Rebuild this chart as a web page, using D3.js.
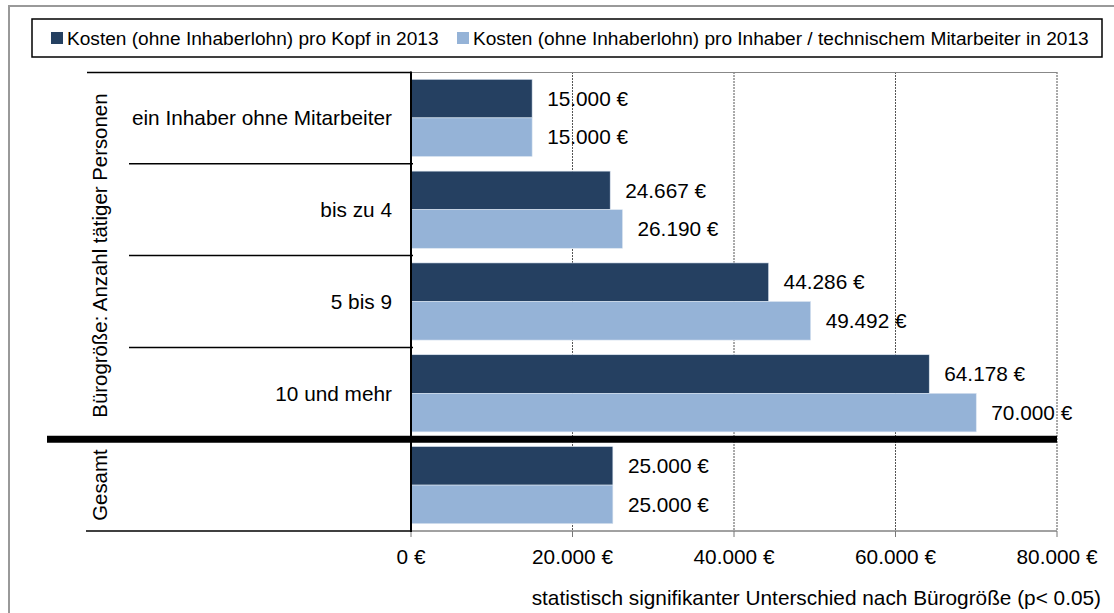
<!DOCTYPE html>
<html>
<head>
<meta charset="utf-8">
<script src="https://cdn.jsdelivr.net/npm/d3@7"></script>
<style>
  body { margin: 0; background: #fff; }
  svg { display: block; font-family: "Liberation Sans", Arimo, Arial, sans-serif; }
</style>
</head>
<body>
<svg id="chart" width="1114" height="613"></svg>
<script>
// values
const categoryLabels = ['ein Inhaber ohne Mitarbeiter', 'bis zu 4', '5 bis 9', '10 und mehr', ''];
const kostenProKopf = [15000, 24667, 44286, 64178, 25000];
const kostenProInhaber = [15000, 26190, 49492, 70000, 25000];
const seriesNames = [
    'Kosten (ohne Inhaberlohn) pro Kopf in 2013',
    'Kosten (ohne Inhaberlohn) pro Inhaber / technischem Mitarbeiter in 2013'
];
const seriesColors = ['#254061', '#95B3D7'];
const xTicks = [0, 20000, 40000, 60000, 80000];
const groupNames = ['Bürogröße: Anzahl tätiger Personen', 'Gesamt'];
const groupSpans = [[0, 3], [4, 4]];
const footNote = 'statistisch signifikanter Unterschied nach Bürogröße (p< 0.05)';

const de = d3.formatLocale({ decimal: ',', thousands: '.', grouping: [3], currency: ['', ' €'] });
const fmt = v => de.format(',.0f')(v) + ' €';

const svg = d3.select('#chart');
const fontSize = 20.8;

// outer frame (only top/left edges visible)
svg.append('path')
    .attr('d', 'M9,1000 V6 H1200')
    .attr('fill', 'none')
    .attr('stroke', '#999')
    .attr('stroke-width', 2);

const x = d3.scaleLinear().domain([0, 80000]).range([411, 1057]);
const y = d3.scaleBand().domain(d3.range(categoryLabels.length)).range([72, 531]);
const yInner = d3.scaleBand().domain([0, 1]).range([0, y.bandwidth()]).paddingOuter(0.19);

const rows = categoryLabels.map((c, i) => ({ i, label: c, values: [kostenProKopf[i], kostenProInhaber[i]] }));

// gridlines
svg.append('g')
    .selectAll('line')
    .data(xTicks.slice(1))
    .enter().append('line')
    .attr('x1', d => x(d)).attr('x2', d => x(d))
    .attr('y1', 72).attr('y2', 531)
    .attr('stroke', '#555')
    .attr('stroke-width', 1)
    .attr('stroke-dasharray', '2,1');

// top border of plot
svg.append('line')
    .attr('x1', x(0)).attr('x2', x(80000))
    .attr('y1', 72.5).attr('y2', 72.5)
    .attr('stroke', '#888');

// bars
const g = svg.append('g');
g.selectAll('g.row')
    .data(rows)
    .enter().append('g')
    .attr('class', 'row')
    .attr('transform', d => `translate(0,${y(d.i)})`)
    .each(function (d) {
        const row = d3.select(this);
        d.values.forEach((v, k) => {
            row.append('rect')
                .attr('x', x(0))
                .attr('y', yInner(k))
                .attr('width', x(v) - x(0))
                .attr('height', yInner.bandwidth())
                .attr('fill', seriesColors[k])
                .attr('stroke', '#dbe5f1')
                .attr('stroke-width', 0.6);
            row.append('text')
                .attr('x', x(v) + 15)
                .attr('y', yInner(k) + yInner.bandwidth() / 2)
                .attr('dy', '0.35em')
                .style('font-size', fontSize + 'px')
                .text(fmt(v));
        });
    });

// category labels
svg.append('g')
    .selectAll('text')
    .data(rows)
    .enter().append('text')
    .attr('x', 392)
    .attr('y', d => y(d.i) + y.bandwidth() / 2)
    .attr('dy', '0.35em')
    .attr('text-anchor', 'end')
    .style('font-size', fontSize + 'px')
    .text(d => d.label);

// structure lines on the left
svg.append('line')
    .attr('x1', 87).attr('x2', x(0)).attr('y1', 72.5).attr('y2', 72.5)
    .attr('stroke', '#000').attr('stroke-width', 1.5);
[1, 2, 3].forEach(i => {
    svg.append('line')
        .attr('x1', 129).attr('x2', x(0) + 2).attr('y1', y(i)).attr('y2', y(i))
        .attr('stroke', '#000').attr('stroke-width', 1.5);
});

// bottom axis
const xAxis = svg.append('g')
    .attr('transform', 'translate(0,531)');
xAxis.append('line')
    .attr('x1', 86).attr('x2', x(0)).attr('y1', 0).attr('y2', 0)
    .attr('stroke', '#000').attr('stroke-width', 1.5);
xAxis.append('line')
    .attr('x1', x(0)).attr('x2', x(80000)).attr('y1', 0).attr('y2', 0)
    .attr('stroke', '#444').attr('stroke-width', 1);
xAxis.selectAll('line.tick')
    .data(xTicks)
    .enter().append('line')
    .attr('class', 'tick')
    .attr('x1', d => x(d)).attr('x2', d => x(d))
    .attr('y1', 0).attr('y2', 6)
    .attr('stroke', '#777');
xAxis.selectAll('text')
    .data(xTicks)
    .enter().append('text')
    .attr('x', d => x(d))
    .attr('y', 33)
    .attr('text-anchor', 'middle')
    .style('font-size', fontSize + 'px')
    .text(d => fmt(d));

// value axis line
svg.append('line')
    .attr('x1', x(0)).attr('x2', x(0)).attr('y1', 71.5).attr('y2', 532)
    .attr('stroke', '#000').attr('stroke-width', 2);

// thick separator before "Gesamt"
svg.append('line')
    .attr('x1', 47).attr('x2', x(80000)).attr('y1', y(4)).attr('y2', y(4))
    .attr('stroke', '#000').attr('stroke-width', 7);

// rotated group labels
svg.append('g')
    .selectAll('text')
    .data(groupNames)
    .enter().append('text')
    .attr('transform', (d, i) => {
        const s = groupSpans[i];
        const cy = (y(s[0]) + y(s[1]) + y.bandwidth()) / 2;
        return `translate(107,${cy}) rotate(-90)`;
    })
    .attr('text-anchor', 'middle')
    .style('font-size', '20.4px')
    .text(d => d);

// legend
const legend = svg.append('g');
legend.append('rect')
    .attr('x', 32).attr('y', 19)
    .attr('width', 1070).attr('height', 38)
    .attr('fill', '#fff')
    .attr('stroke', '#000').attr('stroke-width', 1.5);
const legendX = [51, 457];
seriesNames.forEach((name, k) => {
    legend.append('rect')
        .attr('x', legendX[k]).attr('y', 32)
        .attr('width', 12).attr('height', 12)
        .attr('fill', seriesColors[k]);
    legend.append('text')
        .attr('x', legendX[k] + 16).attr('y', 38)
        .attr('dy', '0.35em')
        .style('font-size', '19.1px')
        .text(name);
});

// foot note
svg.append('text')
    .attr('x', 1101).attr('y', 605)
    .attr('text-anchor', 'end')
    .style('font-size', fontSize + 'px')
    .text(footNote);
</script>
</body>
</html>
